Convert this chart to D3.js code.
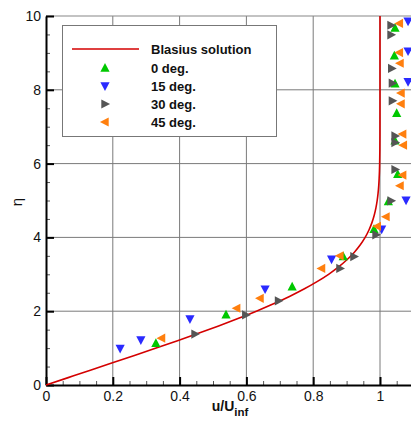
<!DOCTYPE html>
<html>
<head>
<meta charset="utf-8">
<script src="https://cdn.jsdelivr.net/npm/d3@7"></script>
<style>
  html, body { margin: 0; padding: 0; background: #fff; }
  svg { display: block; font-family: "Liberation Sans", Arial, sans-serif; }
</style>
</head>
<body>
<svg id="chart" width="411" height="421"></svg>
<script>
// Blasius similarity profile: eta and u/U_inf
const blasiusEta = [0, 0.2, 0.4, 0.6, 0.8, 1.0, 1.2, 1.4, 1.6, 1.8, 2.0, 2.2, 2.4, 2.6, 2.8, 3.0,
  3.2, 3.4, 3.6, 3.8, 4.0, 4.2, 4.4, 4.6, 4.8, 5.0, 5.2, 5.4, 5.6, 5.8, 6.0, 6.4, 6.8, 7.2, 8.0, 8.8, 10.0];
const blasiusU = [0, 0.06641, 0.13277, 0.19894, 0.26471, 0.32979, 0.39378, 0.45627, 0.51676, 0.57477,
  0.62977, 0.68132, 0.72899, 0.77246, 0.81152, 0.84605, 0.87609, 0.90177, 0.92333, 0.94112, 0.95552,
  0.96696, 0.97587, 0.98269, 0.98779, 0.99155, 0.99425, 0.99616, 0.99748, 0.99838, 0.99898, 0.99961,
  0.99987, 0.99996, 1.0, 1.0, 1.0];

// Measured profiles: [u/U_inf, eta]
const deg0 = [[0.329, 1.13], [0.539, 1.90], [0.737, 2.66], [0.890, 3.48], [0.982, 4.22], [1.025, 4.97],
  [1.053, 5.71], [1.045, 6.62], [1.050, 7.36], [1.045, 8.16], [1.043, 8.92], [1.045, 9.67]];
const deg15 = [[0.222, 0.99], [0.284, 1.22], [0.431, 1.79], [0.656, 2.60], [0.855, 3.41], [1.005, 4.22],
  [1.078, 5.01], [1.084, 8.22], [1.084, 9.05], [1.084, 9.86]];
const deg30 = [[0.446, 1.38], [0.598, 1.90], [0.696, 2.28], [0.880, 3.16], [0.922, 3.48], [0.988, 4.07],
  [1.033, 4.99], [1.045, 5.84], [1.045, 6.57], [1.045, 6.75], [1.037, 7.70], [1.037, 8.18],
  [1.035, 8.58], [1.033, 9.49], [1.033, 9.75]];
const deg45 = [[0.346, 1.27], [0.571, 2.08], [0.641, 2.35], [0.825, 3.16], [0.880, 3.50], [0.992, 4.30],
  [1.018, 4.56], [1.060, 5.40], [1.068, 5.69], [1.070, 6.50], [1.068, 6.80], [1.063, 7.62],
  [1.063, 7.91], [1.060, 8.72], [1.058, 9.01], [1.058, 9.80]];

const xMajor = [0, 0.2, 0.4, 0.6, 0.8, 1];
const yMajor = [0, 2, 4, 6, 8, 10];
const legendLabels = ["Blasius solution", "0 deg.", "15 deg.", "30 deg.", "45 deg."];

const series = [
  { data: deg0, shape: "up", color: "#00c800" },
  { data: deg15, shape: "down", color: "#2a2aff" },
  { data: deg30, shape: "right", color: "#555555" },
  { data: deg45, shape: "left", color: "#ff7f0e" }
];

const svg = d3.select("#chart");
const plotLeft = 46, plotTop = 16, plotBottom = 385;
const x = d3.scaleLinear().domain([0, 1.1]).range([plotLeft, plotLeft + 1.1 * 334]);
const y = d3.scaleLinear().domain([0, 10]).range([plotBottom, plotTop]);
const xMax = x.range()[1];

// grid
const grid = svg.append("g").attr("stroke", "#7a7a7a").attr("stroke-width", 1);
xMajor.filter(v => v > 0).forEach(v => {
  grid.append("line").attr("x1", x(v)).attr("x2", x(v)).attr("y1", plotTop).attr("y2", plotBottom);
});
yMajor.filter(v => v > 0 && v < 10).forEach(v => {
  grid.append("line").attr("x1", plotLeft).attr("x2", xMax).attr("y1", y(v)).attr("y2", y(v));
});
// top frame
svg.append("line").attr("x1", plotLeft).attr("x2", xMax).attr("y1", y(10)).attr("y2", y(10))
  .attr("stroke", "#888").attr("stroke-width", 1.2);

// minor ticks
const xMinor = d3.range(0, 1.1, 0.05).filter(v => Math.abs(v / 0.2 - Math.round(v / 0.2)) > 1e-6);
const yMinor = d3.range(0, 10, 0.5).filter(v => v % 2 !== 0);
svg.append("g").attr("transform", `translate(0,${plotBottom})`)
  .call(d3.axisBottom(x).tickValues(xMinor).tickSize(-4).tickFormat(""))
  .call(g => g.select(".domain").remove())
  .call(g => g.selectAll("line").attr("stroke", "#555"));
svg.append("g").attr("transform", `translate(${plotLeft},0)`)
  .call(d3.axisLeft(y).tickValues(yMinor).tickSize(-4).tickFormat(""))
  .call(g => g.select(".domain").remove())
  .call(g => g.selectAll("line").attr("stroke", "#555"));

// major axes
const xAxis = svg.append("g").attr("transform", `translate(0,${plotBottom})`)
  .call(d3.axisBottom(x).tickValues(xMajor).tickSize(-8).tickPadding(6).tickSizeOuter(0)
    .tickFormat(d => d === 0 ? "0" : d3.format("~g")(d)));
xAxis.select(".domain").attr("stroke", "#000").attr("stroke-width", 2);
xAxis.selectAll(".tick line").attr("stroke", "#000").attr("stroke-width", 2);
xAxis.selectAll(".tick text").attr("font-size", 14).attr("fill", "#111")
  .attr("font-family", "'Liberation Sans', Arial, sans-serif");

const yAxis = svg.append("g").attr("transform", `translate(${plotLeft},0)`)
  .call(d3.axisLeft(y).tickValues(yMajor).tickSize(-8).tickPadding(5).tickSizeOuter(0));
yAxis.select(".domain").attr("stroke", "#000").attr("stroke-width", 2);
yAxis.selectAll(".tick line").attr("stroke", "#000").attr("stroke-width", 2);
yAxis.selectAll(".tick text").attr("font-size", 14).attr("fill", "#111")
  .attr("font-family", "'Liberation Sans', Arial, sans-serif");

// Blasius curve
const profile = blasiusEta.map((e, i) => [blasiusU[i], e]);
svg.append("path")
  .datum(profile)
  .attr("fill", "none")
  .attr("stroke", "#d40000")
  .attr("stroke-width", 1.6)
  .attr("d", d3.line().x(d => x(d[0])).y(d => y(d[1])).curve(d3.curveMonotoneY));

// triangle markers
function tri(shape, cx, cy) {
  const h = 4.6, w = 4.6;
  switch (shape) {
    case "up": return `M${cx - w},${cy + h * 0.8}L${cx + w},${cy + h * 0.8}L${cx},${cy - h * 1.1}Z`;
    case "down": return `M${cx - w},${cy - h * 0.8}L${cx + w},${cy - h * 0.8}L${cx},${cy + h * 1.1}Z`;
    case "right": return `M${cx - h * 0.8},${cy - w}L${cx - h * 0.8},${cy + w}L${cx + h * 1.1},${cy}Z`;
    default: return `M${cx + h * 0.8},${cy - w}L${cx + h * 0.8},${cy + w}L${cx - h * 1.1},${cy}Z`;
  }
}
series.forEach(s => {
  svg.append("g").selectAll("path").data(s.data).join("path")
    .attr("d", d => tri(s.shape, x(d[0]), y(d[1])))
    .attr("fill", s.color);
});

// legend
const lg = svg.append("g");
lg.append("rect").attr("x", 62.5).attr("y", 25.5).attr("width", 214).attr("height", 111)
  .attr("fill", "#fff").attr("stroke", "#777").attr("stroke-width", 1);
const rowY = [49, 68, 86, 104, 122];
lg.append("line").attr("x1", 72).attr("x2", 139).attr("y1", rowY[0]).attr("y2", rowY[0])
  .attr("stroke", "#d40000").attr("stroke-width", 1.6);
series.forEach((s, i) => {
  lg.append("path").attr("d", tri(s.shape, 105, rowY[i + 1])).attr("fill", s.color);
});
legendLabels.forEach((t, i) => {
  lg.append("text").attr("x", 151).attr("y", rowY[i] + 5)
    .attr("font-size", 13).attr("font-weight", "bold").attr("fill", "#111").text(t);
});

// axis titles
const xt = svg.append("text").attr("x", 230).attr("y", 411).attr("text-anchor", "middle")
  .attr("font-size", 14).attr("font-weight", "bold").attr("fill", "#111");
xt.append("tspan").text("u/U");
xt.append("tspan").attr("dy", 5).attr("font-size", 11.5).text("inf");

svg.append("text").attr("transform", "translate(22,202) rotate(-90)")
  .attr("text-anchor", "middle").attr("font-size", 15).attr("fill", "#111").text("η");
</script>
</body>
</html>
